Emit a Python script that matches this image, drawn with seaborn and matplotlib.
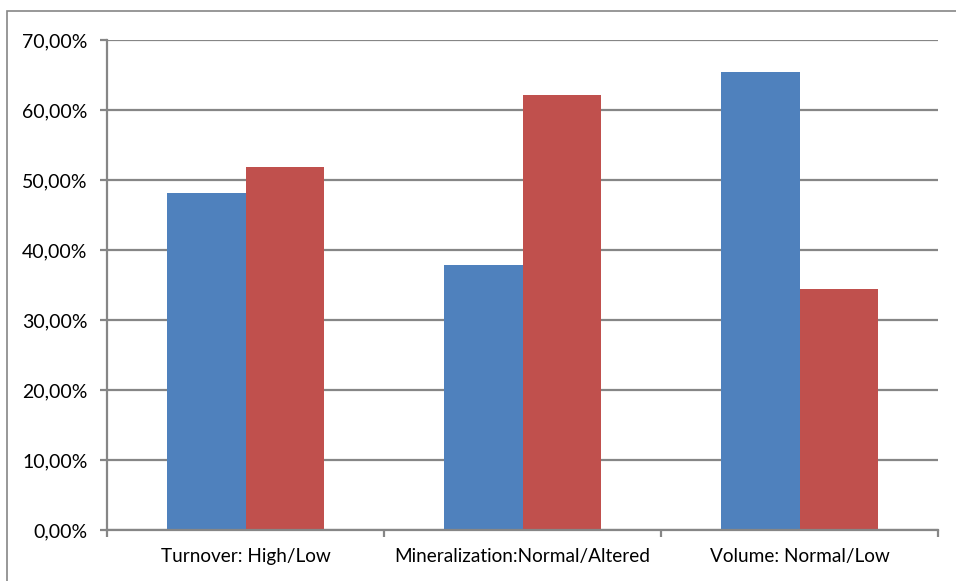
import numpy as np
import pandas as pd
import matplotlib.pyplot as plt
import seaborn as sns
from matplotlib.ticker import FuncFormatter, FixedLocator
from matplotlib.patches import Rectangle

categories = ["Turnover: High/Low", "Mineralization:Normal/Altered", "Volume: Normal/Low"]
series_1 = [48.2, 37.9, 65.5]
series_2 = [51.8, 62.1, 34.5]

df = pd.DataFrame({
    "category": categories * 2,
    "value": series_1 + series_2,
    "series": ["Series1"] * 3 + ["Series2"] * 3,
})

sns.set_theme(style="white")
plt.rcParams["font.family"] = ["Lato", "DejaVu Sans"]

grey = "#868686"

fig = plt.figure(figsize=(9.56, 5.81), dpi=100)
ax = fig.add_axes([107 / 956, 1 - 530 / 581, (938 - 107) / 956, (530 - 40) / 581])

sns.barplot(data=df, x="category", y="value", hue="series", order=categories,
            palette=["#4F81BD", "#C0504D"], width=0.57, saturation=1,
            legend=False, ax=ax, edgecolor="none", linewidth=0)

ax.set_xlim(-0.5, 2.5)
ax.set_ylim(0, 70)
ax.set_yticks(np.arange(0, 71, 10))
ax.yaxis.set_major_formatter(FuncFormatter(lambda v, p: f"{v:.2f}%".replace(".", ",")))
ax.grid(axis="y", color=grey, linewidth=1.6)
ax.set_axisbelow(True)

# category labels sit between the boundary ticks
ax.xaxis.set_major_locator(FixedLocator([-0.5, 0.5, 1.5, 2.5]))
ax.xaxis.set_minor_locator(FixedLocator([0, 1, 2]))
ax.set_xticklabels([], minor=False)
ax.set_xticklabels(categories, minor=True)
ax.tick_params(axis="x", which="major", direction="out", length=5, width=1.6, color=grey, bottom=True)
ax.tick_params(axis="x", which="minor", length=0, pad=13, labelsize=13.7, colors="black")
ax.tick_params(axis="y", direction="out", length=5, width=1.6, color=grey, left=True, pad=9,
               labelsize=14, labelcolor="black")

ax.set_xlabel("")
ax.set_ylabel("")
for side in ["top", "right"]:
    ax.spines[side].set_visible(False)
for side in ["left", "bottom"]:
    ax.spines[side].set_color(grey)
    ax.spines[side].set_linewidth(1.6)

# chart area frame like Excel
fig.patches.append(Rectangle((7 / 956, -0.1), 1.2, 1 - 11 / 581 + 0.1, transform=fig.transFigure,
                             fill=False, edgecolor=grey, linewidth=1.2))

fig.savefig("out.png", dpi=100)
